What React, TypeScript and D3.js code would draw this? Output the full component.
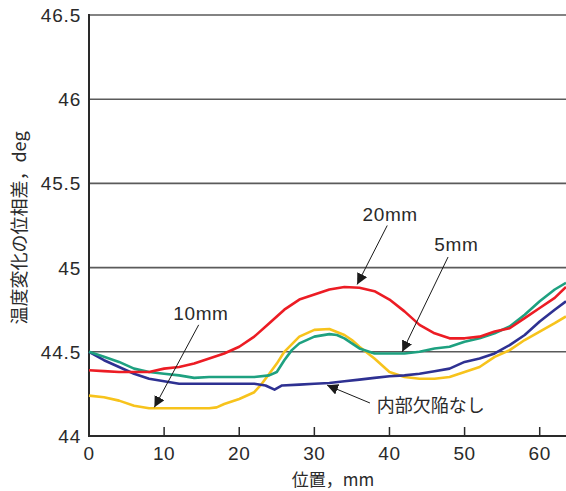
import React from "react";
import * as d3 from "d3";

const xTicks = [0, 10, 20, 30, 40, 50, 60];
const yTicks = [44, 44.5, 45, 45.5, 46, 46.5];
const yTickLabels = ["44", "44.5", "45", "45.5", "46", "46.5"];

const red20: [number, number][] = [
  [0, 44.39], [2, 44.385], [4, 44.38], [6, 44.38], [8, 44.38], [10, 44.4], [12, 44.41], [14, 44.43],
  [16, 44.46], [18, 44.49], [20, 44.53], [22, 44.59], [24, 44.67], [26, 44.75], [28, 44.81],
  [30, 44.84], [32, 44.87], [34, 44.885], [36, 44.88], [38, 44.86], [40, 44.81], [42, 44.74],
  [44, 44.66], [46, 44.61], [48, 44.58], [50, 44.58], [52, 44.59], [54, 44.62], [56, 44.64],
  [58, 44.7], [60, 44.76], [62, 44.82], [63.5, 44.885],
];
const green5: [number, number][] = [
  [0, 44.5], [2, 44.47], [4, 44.44], [6, 44.4], [8, 44.38], [10, 44.37], [12, 44.36], [14, 44.345],
  [16, 44.35], [18, 44.35], [20, 44.35], [22, 44.35], [24, 44.36], [25, 44.38], [26, 44.45],
  [27, 44.51], [28, 44.55], [30, 44.59], [32, 44.605], [33, 44.6], [34, 44.58], [36, 44.52],
  [38, 44.49], [40, 44.49], [42, 44.49], [44, 44.5], [46, 44.52], [48, 44.53], [50, 44.56],
  [52, 44.58], [54, 44.61], [56, 44.65], [58, 44.72], [60, 44.8], [62, 44.87], [63.5, 44.91],
];
const blueNone: [number, number][] = [
  [0, 44.5], [2, 44.45], [4, 44.41], [6, 44.37], [8, 44.34], [10, 44.325], [12, 44.31], [14, 44.31],
  [16, 44.31], [18, 44.31], [20, 44.31], [22, 44.31], [23.5, 44.3], [24.7, 44.275], [25.7, 44.3],
  [28, 44.305], [30, 44.31], [32, 44.315], [34, 44.325], [36, 44.335], [38, 44.345], [40, 44.355],
  [42, 44.36], [44, 44.37], [46, 44.385], [48, 44.4], [50, 44.44], [52, 44.46], [54, 44.49],
  [56, 44.54], [58, 44.6], [60, 44.68], [62, 44.75], [63.5, 44.8],
];
const yellow10: [number, number][] = [
  [0, 44.24], [2, 44.23], [4, 44.21], [6, 44.18], [8, 44.165], [10, 44.165], [12, 44.165],
  [14, 44.165], [16, 44.165], [17, 44.17], [18, 44.19], [20, 44.22], [22, 44.26], [23, 44.31],
  [24, 44.37], [25, 44.43], [26, 44.5], [28, 44.59], [30, 44.63], [32, 44.635], [34, 44.6],
  [35, 44.57], [36, 44.53], [38, 44.46], [40, 44.38], [42, 44.35], [44, 44.34], [46, 44.34],
  [48, 44.35], [50, 44.38], [52, 44.41], [54, 44.47], [56, 44.51], [58, 44.57], [60, 44.62],
  [62, 44.67], [63.5, 44.71],
];

const series = [
  { name: "yellow10", data: yellow10, color: "#f7c31c" },
  { name: "blueNone", data: blueNone, color: "#2e3192" },
  { name: "green5", data: green5, color: "#1ea180" },
  { name: "red20", data: red20, color: "#ec1c24" },
];

// annotations: label, text position, arrow start/end in data coords
const annotations = [
  { text: "20mm", tx: 40.1, ty: 45.275, anchor: "middle", x1: 39.7, y1: 45.25, x2: 35.7, y2: 44.9 },
  { text: "5mm", tx: 48.9, ty: 45.1, anchor: "middle", x1: 47.8, y1: 45.063, x2: 41.7, y2: 44.5 },
  { text: "10mm", tx: 14.9, ty: 44.69, anchor: "middle", x1: 14.6, y1: 44.66, x2: 8.7, y2: 44.17 },
  { text: "内部欠陥なし", tx: 38.3, ty: 44.145, anchor: "start", x1: 37.4, y1: 44.196, x2: 31.7, y2: 44.302 },
];

const W = 566;
const H = 491;
const left = 89;
const right = 566;
const top = 15;
const bottom = 436;

export default function App() {
  const x = d3.scaleLinear().domain([0, 63.5]).range([left, right]);
  const y = d3.scaleLinear().domain([44, 46.5]).range([bottom, top]);
  const line = d3
    .line<[number, number]>()
    .x((d) => x(d[0]))
    .y((d) => y(d[1]));

  const font = "'Liberation Sans', Arial, sans-serif";
  const jfont = "'Noto Sans CJK JP', 'Liberation Sans', sans-serif";
  const textColor = "#2a2a2a";

  return (
    <svg
      width={W}
      height={H}
      style={{ position: "absolute", left: 0, top: 0, background: "#fff" }}
    >
      <defs>
        <marker id="ah" viewBox="0 0 10 10" refX="10" refY="5" markerWidth="11" markerHeight="11" markerUnits="userSpaceOnUse" orient="auto">
          <path d="M0,0 L10,5 L0,10 z" fill="#1a1a1a" />
        </marker>
      </defs>
      {/* grid lines */}
      {yTicks.slice(1).map((t) => (
        <line key={t} x1={left} x2={right} y1={y(t)} y2={y(t)} stroke="#5a5a5a" strokeWidth={1.6} />
      ))}
      {/* axes */}
      <line x1={left} x2={right} y1={bottom} y2={bottom} stroke="#2a2a2a" strokeWidth={2} />
      <line x1={left} x2={left} y1={top - 1} y2={bottom + 1} stroke="#2a2a2a" strokeWidth={2} />
      {xTicks.slice(1).map((t) => (
        <line key={t} x1={x(t)} x2={x(t)} y1={bottom} y2={bottom - 9} stroke="#2a2a2a" strokeWidth={1.5} />
      ))}
      {xTicks.map((t) => (
        <text key={t} x={x(t)} y={460} textAnchor="middle" fontFamily={font} fontSize={19} letterSpacing={0.6} fill={textColor}>
          {t}
        </text>
      ))}
      {yTicks.map((t, i) => (
        <text key={t} x={81} y={y(t) + 7} textAnchor="end" fontFamily={font} fontSize={19} letterSpacing={0.8} fill={textColor}>
          {yTickLabels[i]}
        </text>
      ))}
      {/* axis titles */}
      <text x={333} y={486} textAnchor="middle" fontFamily={jfont} fontSize={17} fill={textColor}>
        位置，mm
      </text>
      <text
        transform={`translate(26, ${228}) rotate(-90)`}
        textAnchor="middle"
        fontFamily={jfont}
        fontSize={18}
        fill={textColor}
      >
        温度変化の位相差，deg
      </text>
      {/* series */}
      {series.map((s) => (
        <path key={s.name} d={line(s.data) || ""} fill="none" stroke={s.color} strokeWidth={2.6} strokeLinejoin="round" />
      ))}
      {/* annotations */}
      {annotations.map((a) => (
        <g key={a.text}>
          <line x1={x(a.x1)} y1={y(a.y1)} x2={x(a.x2)} y2={y(a.y2)} stroke="#1a1a1a" strokeWidth={1} markerEnd="url(#ah)" />
          <text
            x={x(a.tx)}
            y={y(a.ty)}
            textAnchor={a.anchor as any}
            fontFamily={a.text.includes("mm") ? font : jfont}
            fontSize={a.text.includes("mm") ? 19 : 18}
            letterSpacing={a.text.includes("mm") ? 0.6 : 0}
            fill={textColor}
          >
            {a.text}
          </text>
        </g>
      ))}
    </svg>
  );
}
